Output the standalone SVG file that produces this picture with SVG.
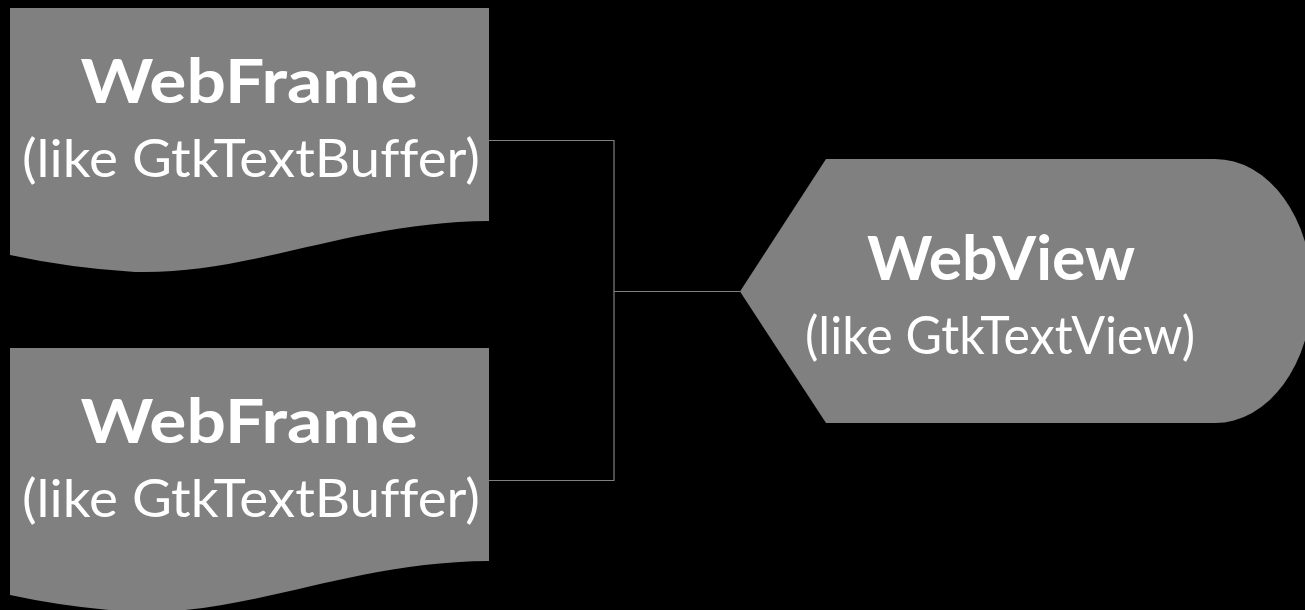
<svg xmlns="http://www.w3.org/2000/svg" width="1305" height="610" viewBox="0 0 1305 610">
<defs>
<style>
.shape{fill:#808080;stroke:none}
.conn{fill:none;stroke:#808080;stroke-width:1.2}
.t{fill:#ffffff;font-family:Lato,"Open Sans","Liberation Sans",sans-serif;text-anchor:middle;font-variant-ligatures:none}
.title{font-weight:bold;font-size:62px}
.sub{font-size:53px}
</style>
</defs>
<rect x="0" y="0" width="1305" height="610" fill="#000000"/>
<g id="connectors">
<polyline class="conn" points="489,140.5 614,140.5 614,480.5 489,480.5"/>
<line class="conn" x1="614" y1="291.5" x2="740" y2="291.5"/>
</g>
<g id="webframe1">
<path class="shape" d="M10,8 H489 V221 C350,222 250,275 135,272 Q70,268 10,255 Z"/>
<text class="t title" x="249" y="103" textLength="337" lengthAdjust="spacingAndGlyphs">WebFrame</text>
<text class="t sub" x="251" y="177" textLength="458" lengthAdjust="spacingAndGlyphs">(like GtkTextBuffer)</text>
</g>
<g id="webframe2">
<path class="shape" d="M10,348 H489 V561 C350,562 250,615 135,612 Q70,608 10,595 Z"/>
<text class="t title" x="249" y="443" textLength="337" lengthAdjust="spacingAndGlyphs">WebFrame</text>
<text class="t sub" x="251" y="517" textLength="458" lengthAdjust="spacingAndGlyphs">(like GtkTextBuffer)</text>
</g>
<g id="webview">
<path class="shape" d="M740,291.5 L826,159 H1215 A97,132 0 0 1 1215,423 H826 Z"/>
<text class="t title" x="1001" y="280" textLength="268" lengthAdjust="spacingAndGlyphs">WebView</text>
<text class="t sub" x="1000" y="354" textLength="390" lengthAdjust="spacingAndGlyphs">(like GtkTextView)</text>
</g>
</svg>
